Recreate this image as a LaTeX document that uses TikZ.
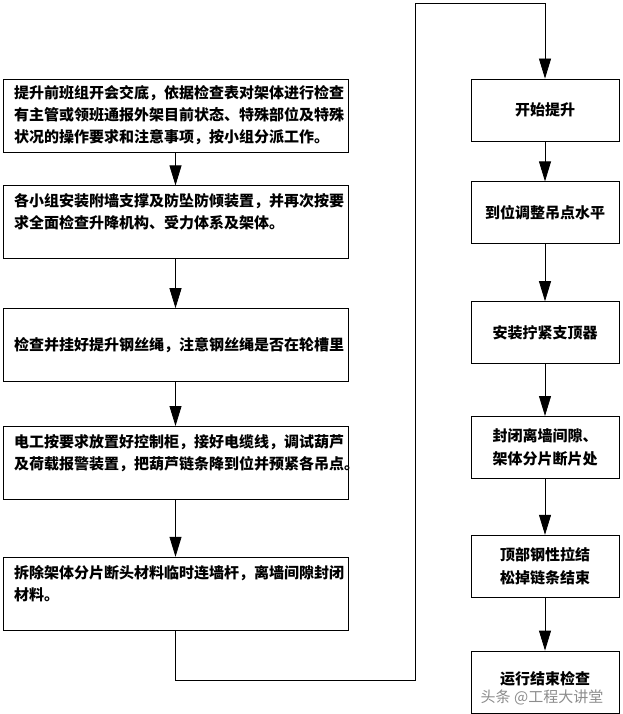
\documentclass[tikz,border=0pt]{standalone}
\usepackage{fontspec}
\setmainfont{Noto Sans CJK SC}
\usepackage{tikz}
\usetikzlibrary{shapes,arrows.meta,positioning}

\begin{document}
\begin{tikzpicture}[
    box/.style={rectangle, draw, line width=0.8pt, text width=323pt, inner xsep=11pt, inner ysep=0pt, minimum height=73pt, align=left, font=\bfseries\fontsize{15pt}{22pt}\selectfont},
    rbox/.style={rectangle, draw, line width=0.8pt, text width=126pt, inner xsep=11pt, inner ysep=0pt, minimum height=62pt, align=center, font=\bfseries\fontsize{15pt}{23pt}\selectfont},
    arrow/.style={-{Triangle[length=20pt,width=12pt]}, line width=0.8pt}
]
\useasboundingbox (0,0) rectangle (622pt,-714pt);

% left column
\node[box] (prep) at (175.5pt,-115.5pt) {提升前班组开会交底，依据检查表对架体进行检查\\有主管或领班通报外架目前状态、特殊部位及特殊\\状况的操作要求和注意事项，按小组分派工作。};
\node[box, below=33pt of prep] (brace) {各小组安装附墙支撑及防坠防倾装置，并再次按要\\求全面检查升降机构、受力体系及架体。\\\mbox{}};
\node[box, below=49pt of brace] (rope) {检查并挂好提升钢丝绳，注意钢丝绳是否在轮槽里};
\node[box, below=44pt of rope] (elec) {电工按要求放置好控制柜，接好电缆线，调试葫芦\\及荷载报警装置，把葫芦链条降到位并预紧各吊点。\\\mbox{}};
\node[box, below=57pt of elec] (remove) {拆除架体分片断头材料临时连墙杆，离墙间隙封闭\\材料。\\\mbox{}};

% right column
\node[rbox] (start) at (545pt,-110pt) {开始提升};
\node[rbox, below=40pt of start] (level) {到位调整吊点水平};
\node[rbox, below=57pt of level] (tight) {安装拧紧支顶器};
\node[rbox, below=52pt of tight] (seal) {封闭离墙间隙、\\架体分片断片处};
\node[rbox, below=56pt of seal] (tie) {顶部钢性拉结\\松掉链条结束};
\node[rbox, below=53pt of tie] (check) {\raisebox{8pt}{运行结束检查}};

% watermark
\node[text=black!45, font=\fontsize{15pt}{15pt}\selectfont, inner sep=0pt] (wm) at (542pt,-697pt) {头条 @工程大讲堂};

\coordinate (low) at (415pt,-680pt);
\coordinate (high) at (415pt,-3pt);

\draw[arrow] (prep) -- (brace);
\draw[arrow] (brace) -- (rope);
\draw[arrow] (rope) -- (elec);
\draw[arrow] (elec) -- (remove);
\draw[arrow] (remove.south) |- (low) -- (high) -| (start.north);

\draw[arrow] (start) -- (level);
\draw[arrow] (level) -- (tight);
\draw[arrow] (tight) -- (seal);
\draw[arrow] (seal) -- (tie);
\draw[arrow] (tie) -- (check);

\end{tikzpicture}
\end{document}
